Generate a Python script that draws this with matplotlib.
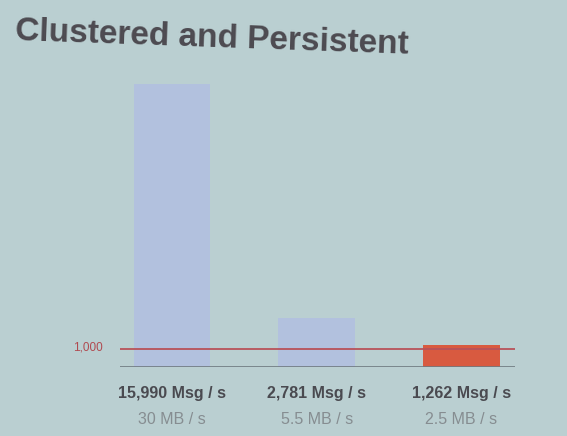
import matplotlib
matplotlib.use("Agg")
from matplotlib import pyplot as plt

# values from the slide
labels = ["15,990 Msg / s", "2,781 Msg / s", "1,262 Msg / s"]
sublabels = ["30 MB / s", "5.5 MB / s", "2.5 MB / s"]
msgs = [15990, 2781, 1262]
threshold = 1000

bg = "#bacfd1"
bar_colors = ["#b2c1de", "#b2c1de", "#d85a40"]

plt.rcParams['font.family'] = ['Liberation Sans', 'DejaVu Sans']

fig = plt.figure(figsize=(5.67, 4.36), dpi=100, facecolor=bg)
W, H = 567, 436
ax = fig.add_axes([120 / W, (H - 367) / H, 395 / W, 292 / H])
ax.set_facecolor("none")

x = list(range(len(msgs)))
ax.bar(x, msgs, width=0.53, color=bar_colors, zorder=2)
ax.axhline(0, color="#6f7a80", lw=1.2, zorder=3)
ax.axhline(threshold, color="#b8525a", lw=1.3, zorder=3)

ax.set_xlim(-0.36, 2.37)
ax.set_ylim(0, 16500)
ax.axis("off")

ax.text(-0.36 - 0.12, threshold + 100, "1,000", color="#b04a50", fontsize=8.5,
        ha="right", va="center")

for i in x:
    ax.text(i, -1480, labels[i], ha="center", va="center", fontsize=11.5,
            fontweight="bold", color="#4a4a50")
    ax.text(i, -2950, sublabels[i], ha="center", va="center", fontsize=11.5,
            color="#868d91")

fig.text(15 / W, 1 - 32 / H, "Clustered and Persistent", fontsize=24,
         fontweight="bold", color="#4d4a50", ha="left", va="center",
         rotation=-2, rotation_mode="anchor")

fig.savefig("out.png", dpi=100, facecolor=bg)
